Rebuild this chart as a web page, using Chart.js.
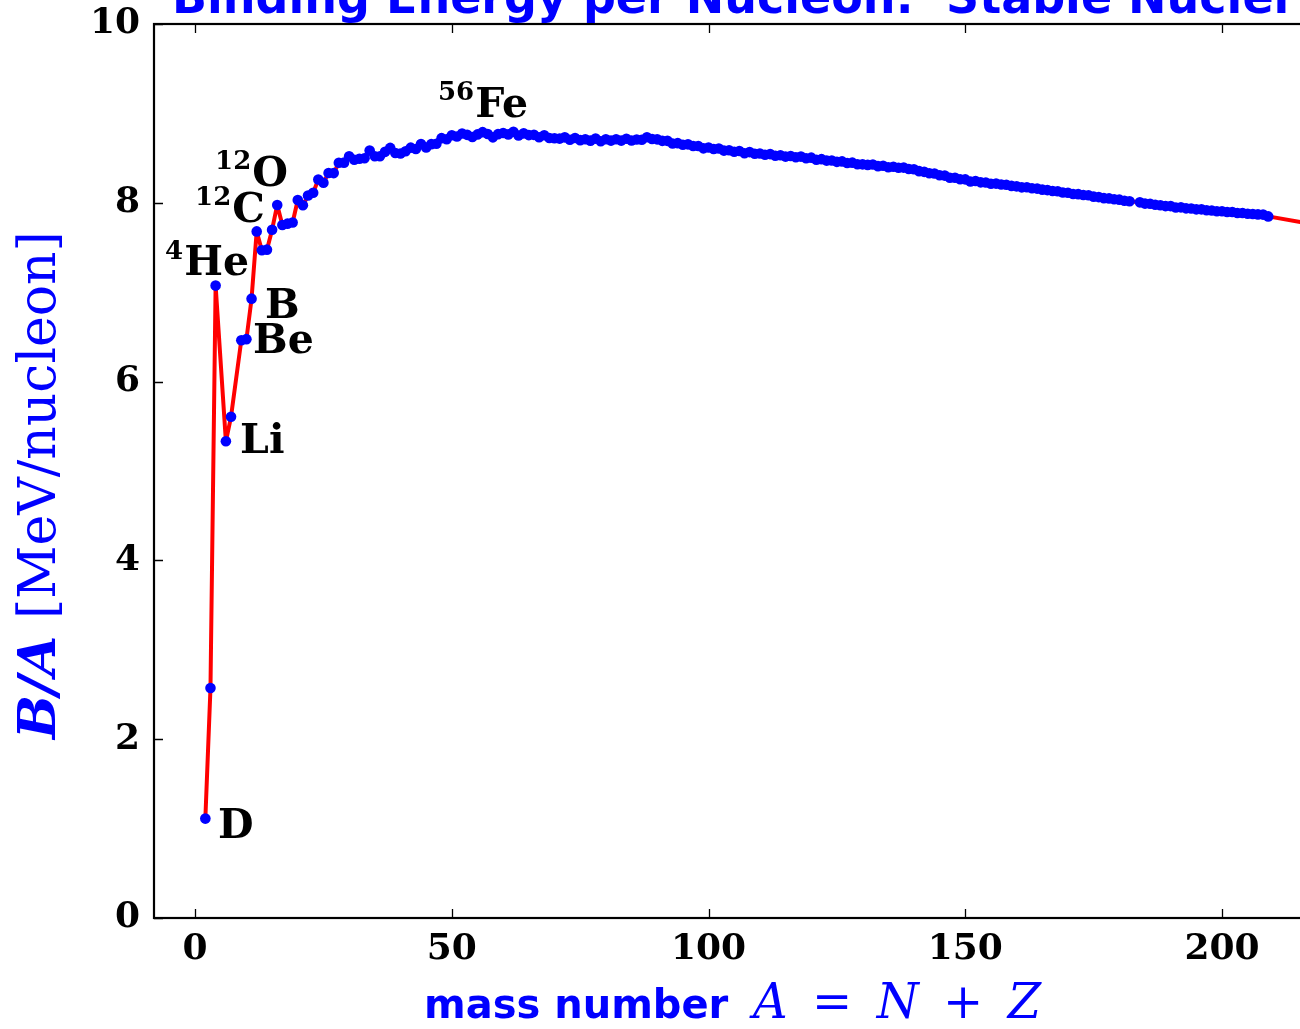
<!DOCTYPE html>
<html>
<head>
<meta charset="utf-8">
<script src="https://cdn.jsdelivr.net/npm/chart.js@4/dist/chart.umd.min.js"></script>
<style>
html,body{margin:0;padding:0;background:#fff;overflow:hidden;width:1300px;height:1029px}
canvas{display:block}
</style>
</head>
<body>
<canvas id="c" width="1330" height="1029" style="width:1330px;height:1029px"></canvas>
<script>
// ---- data (mass number A, binding energy per nucleon B/A in MeV) ----
const massNumber = [
  2,3,4,6,7,9,10,11,12,13,14,15,16,17,18,19,20,21,22,23,24,25,26,27,28,29,30,
  31,32,33,34,35,36,37,38,39,40,41,42,43,44,45,46,47,48,49,50,51,52,53,54,55,
  56,57,58,59,60,61,62,63,64,65,66,67,68,69,70,71,72,73,74,75,76,77,78,79,80,
  81,82,83,84,85,86,87,88,89,90,91,92,93,94,95,96,97,98,99,100,101,102,103,104,
  105,106,107,108,109,110,111,112,113,114,115,116,117,118,119,120,121,122,123,
  124,125,126,127,128,129,130,131,132,133,134,135,136,137,138,139,140,141,142,
  143,144,145,146,147,148,149,150,151,152,153,154,155,156,157,158,159,160,161,
  162,163,164,165,166,167,168,169,170,171,172,173,174,175,176,177,178,179,180,
  181,182,184,185,186,187,188,189,190,191,192,193,194,195,196,197,198,199,200,
  201,202,203,204,205,206,207,208,209,232,235,238
];
const bindingPerNucleon = [
  1.112,2.573,7.074,5.332,5.606,6.463,6.475,6.928,7.680,7.470,7.476,7.699,7.976,
  7.751,7.767,7.779,8.032,7.972,8.081,8.112,8.261,8.224,8.334,8.332,8.448,8.449,
  8.521,8.481,8.493,8.498,8.584,8.520,8.520,8.570,8.614,8.557,8.551,8.576,8.617,
  8.601,8.658,8.619,8.656,8.661,8.723,8.711,8.756,8.742,8.776,8.760,8.736,8.765,
  8.790,8.770,8.732,8.768,8.781,8.765,8.795,8.752,8.777,8.757,8.760,8.734,8.756,
  8.725,8.722,8.718,8.732,8.705,8.725,8.701,8.711,8.695,8.718,8.688,8.711,8.696,
  8.711,8.696,8.717,8.697,8.708,8.705,8.733,8.714,8.710,8.693,8.693,8.664,8.667,
  8.649,8.654,8.635,8.635,8.609,8.619,8.601,8.607,8.584,8.587,8.571,8.580,8.554,
  8.567,8.548,8.551,8.537,8.545,8.527,8.532,8.517,8.523,8.510,8.517,8.499,8.505,
  8.482,8.488,8.472,8.473,8.458,8.463,8.446,8.449,8.431,8.430,8.424,8.428,8.410,
  8.414,8.398,8.403,8.392,8.394,8.378,8.376,8.354,8.346,8.330,8.327,8.309,8.304,
  8.281,8.280,8.263,8.262,8.239,8.244,8.229,8.227,8.213,8.215,8.204,8.202,8.189,
  8.184,8.173,8.174,8.162,8.159,8.147,8.142,8.132,8.130,8.115,8.112,8.098,8.097,
  8.087,8.084,8.069,8.064,8.052,8.049,8.039,8.035,8.023,8.018,8.005,7.991,7.989,
  7.978,7.973,7.963,7.963,7.948,7.949,7.938,7.936,7.927,7.927,7.916,7.914,7.905,
  7.906,7.897,7.897,7.886,7.886,7.878,7.875,7.870,7.868,7.848,7.615,7.591,7.570
];
const xTickValues = [0, 50, 100, 150, 200];
const yTickValues = [0, 2, 4, 6, 8, 10];
const nuclideNames = ['D', 'Li', 'Be', 'B', 'He', 'C', 'O', 'Fe'];
const nuclideMassTags = ['', '', '', '', '4', '12', '12', '56'];

// annotation anchors (data coordinates: left edge / baseline of the label)
const annotationAnchors = [
  {x: 4.47, y: 0.895}, {x: 8.76, y: 5.20}, {x: 11.3, y: 6.32}, {x: 13.63, y: 6.71},
  {x: -5.84, y: 7.19}, {x: 0.0, y: 7.79}, {x: 3.9, y: 8.19}, {x: 47.3, y: 8.96}
];

const BLUE = '#0000ff';

const framePlugin = {
  id: 'frame',
  afterDraw(chart) {
    const {ctx, chartArea: a, scales: {x, y}} = chart;
    ctx.save();
    // inward ticks
    ctx.strokeStyle = '#000';
    ctx.lineWidth = 1.3;
    const L = 9;
    ctx.beginPath();
    x.ticks.forEach(t => {
      const px = Math.round(x.getPixelForValue(t.value)) + 0.5;
      ctx.moveTo(px, a.bottom); ctx.lineTo(px, a.bottom - L);
      ctx.moveTo(px, a.top); ctx.lineTo(px, a.top + L);
    });
    y.ticks.forEach(t => {
      const py = Math.round(y.getPixelForValue(t.value)) + 0.5;
      ctx.moveTo(a.left, py); ctx.lineTo(a.left + L, py);
      ctx.moveTo(a.right, py); ctx.lineTo(a.right - L, py);
    });
    ctx.stroke();
    // frame
    ctx.lineWidth = 2.2;
    ctx.strokeRect(a.left, a.top, a.right - a.left, a.bottom - a.top);

    // nuclide annotations
    ctx.fillStyle = '#000';
    ctx.textBaseline = 'alphabetic';
    ctx.textAlign = 'left';
    nuclideNames.forEach((name, i) => {
      const anc = annotationAnchors[i];
      let px = x.getPixelForValue(anc.x);
      const py = y.getPixelForValue(anc.y);
      const tag = nuclideMassTags[i];
      if (tag) {
        ctx.font = 'bold 26px "DejaVu Serif"';
        ctx.fillText(tag, px, py - 16.5);
        px += ctx.measureText(tag).width + 1;
      }
      ctx.font = 'bold 41px "DejaVu Serif"';
      ctx.fillText(name, px, py);
    });

    // title (cut off at the top like the reference)
    ctx.fillStyle = BLUE;
    ctx.font = 'bold 46px "DejaVu Sans"';
    ctx.fillText('Binding Energy per Nucleon:  Stable Nuclei', 172, 13);

    // x-axis title
    ctx.font = 'bold 40px "DejaVu Sans"';
    ctx.fillText('mass number', 424, 1018);
    const parts = ['A', '=', 'N', '+', 'Z'];
    const fonts = ['italic 48px "DejaVu Serif"', '48px "DejaVu Serif"', 'italic 48px "DejaVu Serif"', '48px "DejaVu Serif"', 'italic 48px "DejaVu Serif"'];
    let widths = parts.map((p, i) => { ctx.font = fonts[i]; return ctx.measureText(p).width; });
    const total = 288, start = 753;
    const gap = (total - widths.reduce((s, v) => s + v, 0)) / (parts.length - 1);
    let cx = start;
    parts.forEach((p, i) => { ctx.font = fonts[i]; ctx.fillText(p, cx, 1018); cx += widths[i] + gap; });

    // y-axis title (rotated)
    const runs = [
      {t: 'B/A', f: 'bold italic 52px "DejaVu Serif"'},
      {t: ' [MeV/nucleon]', f: '52px "DejaVu Serif"'}
    ];
    let tw = 0;
    runs.forEach(r => { ctx.font = r.f; r.w = ctx.measureText(r.t).width; tw += r.w; });
    ctx.translate(55, 485 + tw / 2);
    ctx.rotate(-Math.PI / 2);
    let rx = 0;
    runs.forEach(r => { ctx.font = r.f; ctx.fillText(r.t, rx, 0); rx += r.w; });
    ctx.restore();
  }
};

const noPad = s => { s.paddingTop = 0; s.paddingBottom = 0; s.paddingLeft = 0; s.paddingRight = 0; };

new Chart(document.getElementById('c'), {
  type: 'line',
  data: {
    datasets: [{
      data: massNumber.map((a, i) => ({x: a, y: bindingPerNucleon[i]})),
      borderColor: '#ff0000',
      borderWidth: 4,
      borderJoinStyle: 'round',
      borderCapStyle: 'round',
      pointBackgroundColor: BLUE,
      pointBorderColor: BLUE,
      pointBorderWidth: 0,
      pointRadius: 5.3,
      tension: 0,
      fill: false
    }]
  },
  options: {
    responsive: false,
    devicePixelRatio: 1,
    animation: false,
    layout: {padding: {top: 24, right: 5, left: 0, bottom: 0}},
    plugins: {legend: {display: false}, tooltip: {enabled: false}, title: {display: false}},
    scales: {
      x: {
        type: 'linear', min: -8, max: 220,
        afterBuildTicks: s => { s.ticks = xTickValues.map(v => ({value: v})); },
        afterFit: s => { s.height = 111; noPad(s); },
        grid: {display: false, drawTicks: false},
        border: {display: false},
        ticks: {font: {family: 'DejaVu Serif', weight: 'bold', size: 36}, color: '#000', padding: 10, maxRotation: 0, autoSkip: false}
      },
      y: {
        type: 'linear', min: 0, max: 10,
        afterBuildTicks: s => { s.ticks = yTickValues.map(v => ({value: v})); },
        afterFit: s => { s.width = 154; noPad(s); },
        grid: {display: false, drawTicks: false},
        border: {display: false},
        ticks: {font: {family: 'DejaVu Serif', weight: 'bold', size: 36}, color: '#000', padding: 14, autoSkip: false}
      }
    }
  },
  plugins: [framePlugin]
});
</script>
</body>
</html>
